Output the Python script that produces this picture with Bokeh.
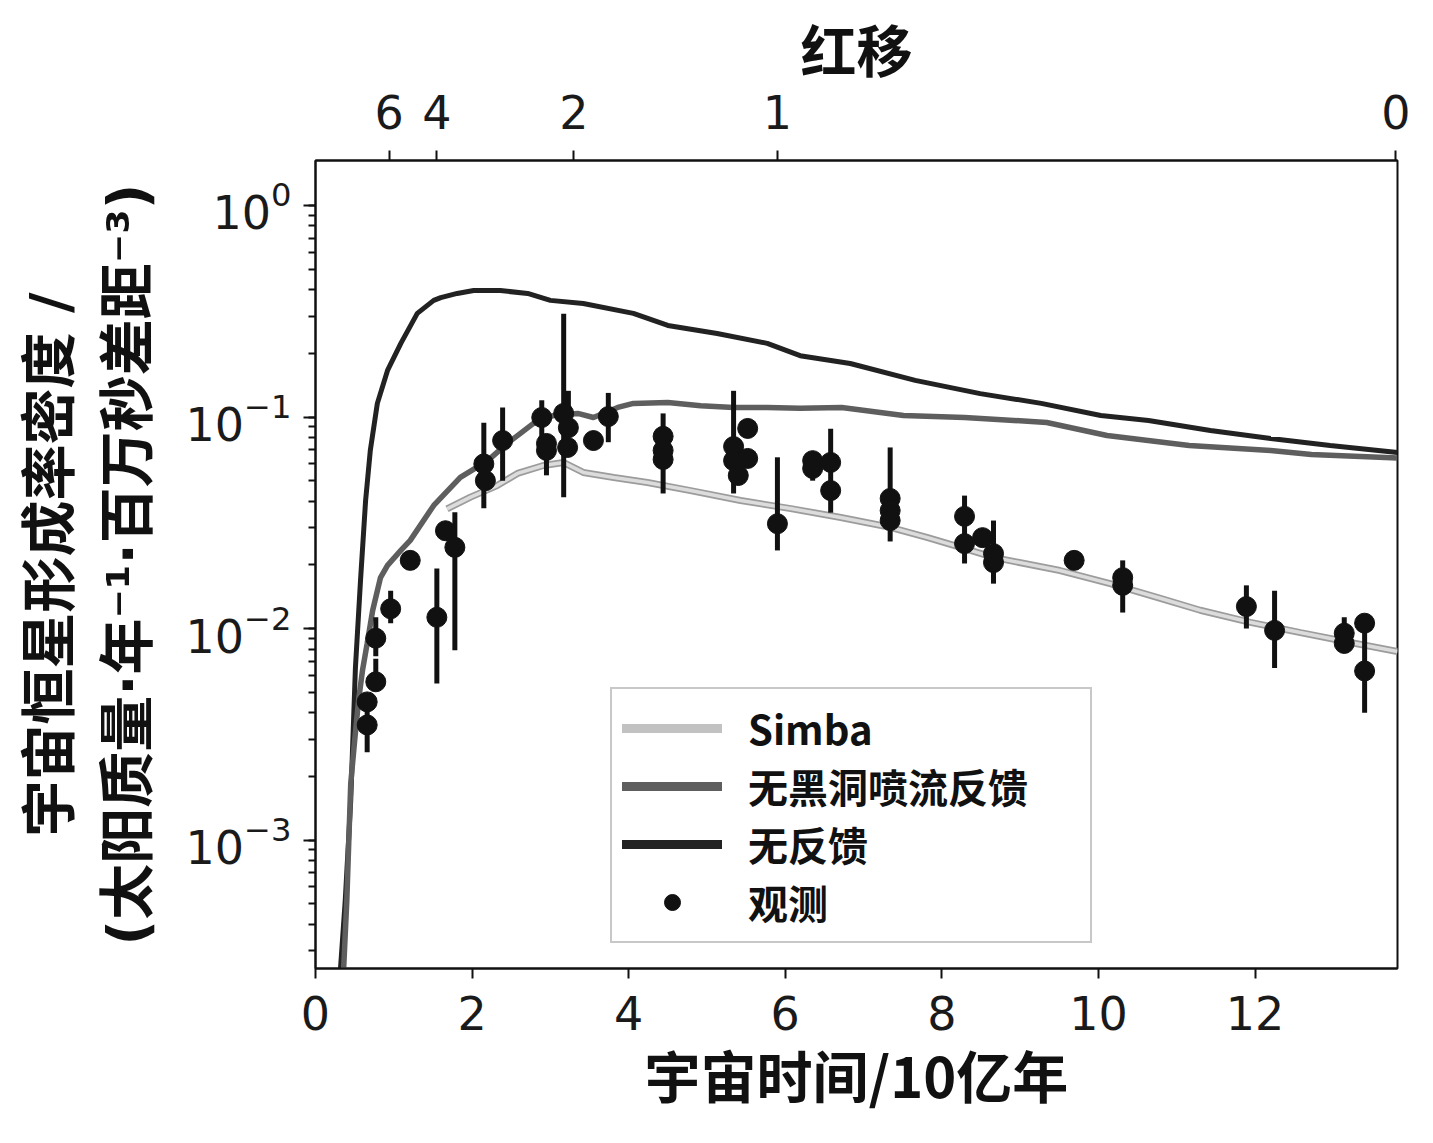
from bokeh.plotting import figure
from bokeh.models import ColumnDataSource, LinearAxis, FixedTicker, Legend, LegendItem
from bokeh.embed import file_html
from bokeh.resources import INLINE

# cosmic SFR density (Msun / yr / Mpc^3) vs cosmic time (Gyr)
t_nofb = [0.31, 0.32, 0.38, 0.45, 0.51, 0.575, 0.64, 0.70, 0.79, 0.92, 1.09, 1.30, 1.51,
          1.60, 1.81, 2.02, 2.36, 2.71, 3.00, 3.42, 4.06, 4.50, 5.13, 5.77, 6.19, 6.83,
          7.66, 8.49, 9.27, 10.03, 10.64, 11.43, 12.20, 12.96, 13.82]
sfr_nofb = [0.0002, 0.000249, 0.000518, 0.00154, 0.00654, 0.0169, 0.0403, 0.0695, 0.116,
            0.166, 0.223, 0.309, 0.356, 0.367, 0.384, 0.396, 0.396, 0.384, 0.356, 0.344,
            0.309, 0.271, 0.248, 0.223, 0.195, 0.179, 0.149, 0.129, 0.116, 0.1016,
            0.0962, 0.0863, 0.0791, 0.0733, 0.0679]

t_nojet = [0.35, 0.36, 0.40, 0.45, 0.50, 0.55, 0.60, 0.66, 0.73, 0.83, 0.92, 1.09, 1.21,
           1.51, 1.85, 2.20, 2.45, 2.78, 3.04, 3.35, 3.55, 3.86, 4.06, 4.50, 4.92, 5.34,
           5.77, 6.19, 6.72, 7.51, 8.29, 9.34, 10.11, 11.16, 12.20, 12.72, 13.82]
sfr_nojet = [0.0002, 0.000249, 0.000518, 0.00185, 0.00295, 0.00457, 0.00633, 0.00849,
             0.01217, 0.0174, 0.0199, 0.0234, 0.0261, 0.0382, 0.0518, 0.0622, 0.0750,
             0.0931, 0.1016, 0.104, 0.0995, 0.111, 0.116, 0.117, 0.113, 0.111, 0.111,
             0.110, 0.111, 0.1016, 0.0995, 0.0942, 0.0818, 0.0733, 0.0695, 0.0665, 0.0640]

t_simba = [1.68, 1.98, 2.32, 2.58, 2.91, 3.17, 3.42, 3.81, 4.24, 4.79, 5.43, 6.07, 6.71,
           7.34, 7.82, 8.24, 8.66, 9.51, 10.15, 10.79, 11.30, 11.94, 12.58, 13.22, 13.82]
sfr_simba = [0.0368, 0.0418, 0.0474, 0.0541, 0.0590, 0.0609, 0.0547, 0.0518, 0.0490,
             0.0449, 0.0403, 0.0369, 0.0335, 0.0301, 0.0269, 0.0242, 0.0217, 0.0188,
             0.0163, 0.0139, 0.0122, 0.0107, 0.00957, 0.00859, 0.00778]

# observations with error bars
obs_t = [0.66, 0.66, 0.77, 0.77, 0.96, 1.21, 1.55, 1.66, 1.78, 2.15, 2.17, 2.39, 2.89,
         2.95, 2.95, 3.17, 3.23, 3.22, 3.55, 3.74, 4.44, 4.44, 4.44, 5.34, 5.34, 5.40,
         5.52, 5.52, 5.90, 6.35, 6.35, 6.58, 6.58, 7.34, 7.34, 7.34, 8.29, 8.29, 8.52,
         8.66, 8.66, 9.69, 10.31, 10.31, 11.89, 12.25, 13.14, 13.14, 13.40, 13.40]
obs_sfr = [0.0035, 0.0045, 0.0056, 0.0090, 0.0124, 0.0210, 0.0113, 0.0290, 0.0242,
           0.0600, 0.0500, 0.0774, 0.0995, 0.0750, 0.0695, 0.1040, 0.0890, 0.0718,
           0.0774, 0.1005, 0.0810, 0.0695, 0.0630, 0.0725, 0.0622, 0.0529, 0.0883,
           0.0637, 0.0313, 0.0622, 0.0571, 0.0610, 0.0449, 0.0412, 0.0361, 0.0324,
           0.0339, 0.0252, 0.0269, 0.0226, 0.0205, 0.0210, 0.0174, 0.0160, 0.0127,
           0.0098, 0.0095, 0.0085, 0.0106, 0.0063]
obs_lo = [0.0026, 0.0045, 0.0056, 0.0074, 0.0106, 0.0210, 0.0055, 0.0290, 0.0079,
          0.0370, 0.0500, 0.0500, 0.0800, 0.0750, 0.0530, 0.0417, 0.0890, 0.0718,
          0.0774, 0.0760, 0.0435, 0.0695, 0.0630, 0.0435, 0.0622, 0.0529, 0.0883,
          0.0637, 0.0234, 0.0622, 0.0500, 0.0353, 0.0449, 0.0258, 0.0361, 0.0324,
          0.0203, 0.0252, 0.0269, 0.0163, 0.0205, 0.0210, 0.0119, 0.0160, 0.0100,
          0.0065, 0.0085, 0.0085, 0.0040, 0.0063]
obs_hi = [0.0045, 0.0045, 0.0072, 0.0113, 0.0151, 0.0210, 0.0192, 0.0290, 0.0355,
          0.0940, 0.0500, 0.1110, 0.1200, 0.0750, 0.0695, 0.3080, 0.1330, 0.0718,
          0.0774, 0.1300, 0.1040, 0.0695, 0.0630, 0.1330, 0.0622, 0.0529, 0.0883,
          0.0637, 0.0645, 0.0622, 0.0571, 0.0880, 0.0449, 0.0718, 0.0361, 0.0324,
          0.0425, 0.0252, 0.0269, 0.0324, 0.0205, 0.0210, 0.0210, 0.0160, 0.0160,
          0.0151, 0.0113, 0.0085, 0.0106, 0.0063]

# redshift ticks on the top axis, placed at the matching cosmic time
z_labels = ["6", "4", "2", "1", "0"]
z_times = [0.94, 1.55, 3.30, 5.90, 13.80]

x_ticks = [0, 2, 4, 6, 8, 10, 12]

p = figure(width=1425, height=1135, x_range=(0, 13.82), y_range=(2.47e-4, 1.632),
           y_axis_type="log", output_backend="svg", toolbar_location=None,
           min_border_left=315, min_border_right=28, min_border_top=160,
           min_border_bottom=167)
p.xgrid.visible = False
p.ygrid.visible = False
p.outline_line_color = "#111111"
p.outline_line_width = 2
p.outline_line_alpha = 1

top = LinearAxis(ticker=FixedTicker(ticks=z_times),
                 major_label_overrides={t: s for t, s in zip(z_times, z_labels)})
p.add_layout(top, "above")

bottom = p.below[0]
bottom.ticker = FixedTicker(ticks=x_ticks)
left = p.left[0]

for ax in [bottom, left, top]:
    ax.axis_line_width = 2
    ax.axis_line_color = "#111111"
    ax.major_tick_line_width = 2
    ax.major_tick_line_color = "#111111"
    ax.major_tick_in = 0
    ax.major_tick_out = 10
    ax.minor_tick_in = 0
    ax.minor_tick_out = 0
    ax.major_label_text_font = "DejaVu Sans"
    ax.major_label_text_font_size = "46px"
    ax.major_label_text_color = "#1a1a1a"
    ax.axis_label_text_font = "Noto Sans CJK SC"
    ax.axis_label_text_font_size = "56px"
    ax.axis_label_text_font_style = "bold"
    ax.axis_label_text_color = "#111111"

left.major_tick_out = 12
left.minor_tick_out = 7
left.minor_tick_line_width = 2
left.minor_tick_line_color = "#111111"
left.major_label_standoff = 12
left.axis_label = "宇宙恒星形成率密度 /\n(太阳质量·年⁻¹·百万秒差距⁻³)"
left.axis_label_text_font = "DejaVu Sans, Noto Sans CJK SC"
left.axis_label_text_line_height = 1.2
left.axis_label_standoff = 23

bottom.major_label_standoff = 17
bottom.axis_label = "宇宙时间/10亿年"
bottom.axis_label_standoff = 0

top.major_label_standoff = 22
top.axis_label = "红移"
top.axis_label_standoff = 4

# model curves
r_nofb = p.line(t_nofb, sfr_nofb, line_color="#222222", line_width=5)
r_nojet = p.line(t_nojet, sfr_nojet, line_color="#5e5e5e", line_width=5.5)
p.line(t_simba, sfr_simba, line_color="#9c9c9c", line_width=7)
r_simba = p.line(t_simba, sfr_simba, line_color="#dcdcdc", line_width=3.5)

# observations
obs = ColumnDataSource(data=dict(t=obs_t, sfr=obs_sfr, lo=obs_lo, hi=obs_hi))
p.segment(x0="t", y0="lo", x1="t", y1="hi", source=obs, line_color="#111111", line_width=5)
p.scatter("t", "sfr", source=obs, size=20, fill_color="#111111", line_color="#111111")

# legend keys: thicker strokes and a small dot, like the original legend
nan = [float("nan")]
k_simba = p.line(nan, nan, line_color="#c2c2c2", line_width=9, line_cap="round")
k_nojet = p.line(nan, nan, line_color="#5e5e5e", line_width=9, line_cap="round")
k_nofb = p.line(nan, nan, line_color="#222222", line_width=9, line_cap="round")
k_obs = p.scatter(nan, nan, size=11, fill_color="#111111", line_color="#111111")

legend = Legend(items=[
    LegendItem(label="Simba", renderers=[k_simba]),
    LegendItem(label="无黑洞喷流反馈", renderers=[k_nojet]),
    LegendItem(label="无反馈", renderers=[k_nofb]),
    LegendItem(label="观测", renderers=[k_obs]),
], location=(295, 25))
legend.margin = 0
legend.padding = 10
legend.spacing = 0
legend.glyph_width = 100
legend.glyph_height = 40
legend.label_height = 40
legend.label_width = 332
legend.label_standoff = 26
legend.label_text_font = "Noto Sans CJK SC"
legend.label_text_font_size = "40px"
legend.label_text_font_style = "bold"
legend.label_text_color = "#111111"
legend.border_line_color = "#c8c8c8"
legend.border_line_width = 2
legend.border_line_alpha = 1
legend.background_fill_alpha = 1
p.add_layout(legend, "center")

open("out.html", "w").write(file_html(p, INLINE))
